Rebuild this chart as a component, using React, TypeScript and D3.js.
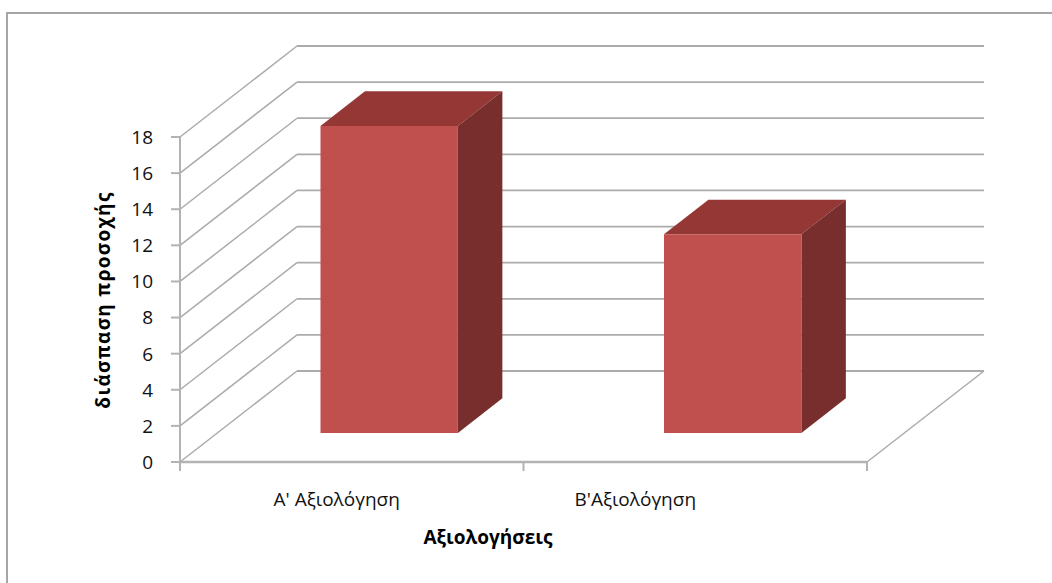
import * as d3 from 'd3'

const categories = ["Α' Αξιολόγηση", "Β'Αξιολόγηση"]
const values = [17, 11]
const yTicks = [0, 2, 4, 6, 8, 10, 12, 14, 16, 18]
const yTitle = 'διάσπαση προσοχής'
const xTitle = 'Αξιολογήσεις'

const W = 1052, H = 583
// depth projection of the 3D floor
const DX = 117, DY = 91
const Z0 = 0.32, Z1 = 0.70
const labelShift = [-15, -60]

const grid = '#ababab'
const font = '"Open Sans", "Noto Sans", sans-serif'

export default function App() {
  const x = d3.scaleBand<string>().domain(categories).range([180, 867])
  const y = d3.scaleLinear().domain([0, 18]).range([462, 137])
  const p = (px: number, py: number, z: number) => [px + z * DX, py - z * DY] as [number, number]
  const poly = (pts: [number, number][]) => pts.map(q => q.join(',')).join(' ')

  const bw = x.bandwidth() * 0.4
  const [x0, x1] = x.range()

  return (
    <>
      <style>{`body{margin:0}`}</style>
      <svg width={W} height={H} style={{ display: 'block', background: '#fff' }}>
        <rect x={7} y={13} width={W + 20} height={H + 20} fill="none" stroke="#a6a6a6" strokeWidth={2} />

        {/* back wall + left wall gridlines */}
        {yTicks.map(t => (
          <g key={t}>
            <line x1={x0} y1={y(t)} x2={x0 + DX} y2={y(t) - DY} stroke={grid} strokeWidth={1.5} />
            <line x1={x0 + DX} y1={y(t) - DY} x2={x1 + DX} y2={y(t) - DY} stroke={grid} strokeWidth={1.8} />
          </g>
        ))}
        {/* floor right edge */}
        <line x1={x1} y1={y(0)} x2={x1 + DX} y2={y(0) - DY} stroke={grid} strokeWidth={1.5} />

        {/* bars */}
        {categories.map((c, i) => {
          const cx = (x(c) ?? 0) + x.bandwidth() / 2
          const l = cx - bw / 2, r = cx + bw / 2
          const top = y(values[i]), bot = y(0)
          return (
            <g key={c}>
              <polygon points={poly([p(l, top, Z0), p(r, top, Z0), p(r, top, Z1), p(l, top, Z1)])} fill="#943735" />
              <polygon points={poly([p(r, top, Z0), p(r, top, Z1), p(r, bot, Z1), p(r, bot, Z0)])} fill="#772e2c" />
              <polygon points={poly([p(l, top, Z0), p(r, top, Z0), p(r, bot, Z0), p(l, bot, Z0)])} fill="#c0504d" />
            </g>
          )
        })}

        {/* front axes */}
        <line x1={x0} y1={y(0)} x2={x1} y2={y(0)} stroke="#b3b3b3" strokeWidth={2.5} />
        <line x1={x0} y1={y(0) + 8} x2={x0} y2={y(18)} stroke="#b3b3b3" strokeWidth={2} />
        {yTicks.map(t => (
          <g key={t}>
            <line x1={x0 - 9} y1={y(t)} x2={x0} y2={y(t)} stroke="#b3b3b3" strokeWidth={2} />
            <text x={x0 - 27} y={y(t)} dy="0.36em" textAnchor="end" fontFamily={font} fontSize={19} fill="#111">{t}</text>
          </g>
        ))}
        {[...categories.map(c => x(c) ?? 0), x1].map((v, i) => (
          <line key={i} x1={v} y1={y(0)} x2={v} y2={y(0) + 9} stroke="#b3b3b3" strokeWidth={2} />
        ))}
        {categories.map((c, i) => (
          <text key={c} x={(x(c) ?? 0) + x.bandwidth() / 2 + labelShift[i]} y={506} textAnchor="middle"
            fontFamily={font} fontSize={19} fill="#111">{c}</text>
        ))}

        <text x={488} y={544} textAnchor="middle" fontFamily={font} fontSize={19} fontWeight="bold" fill="#000">{xTitle}</text>
        <text transform={`translate(110,300) rotate(-90)`} textAnchor="middle" fontFamily={font}
          fontSize={19} fontWeight="bold" letterSpacing={1.3} fill="#000">{yTitle}</text>
      </svg>
    </>
  )
}
